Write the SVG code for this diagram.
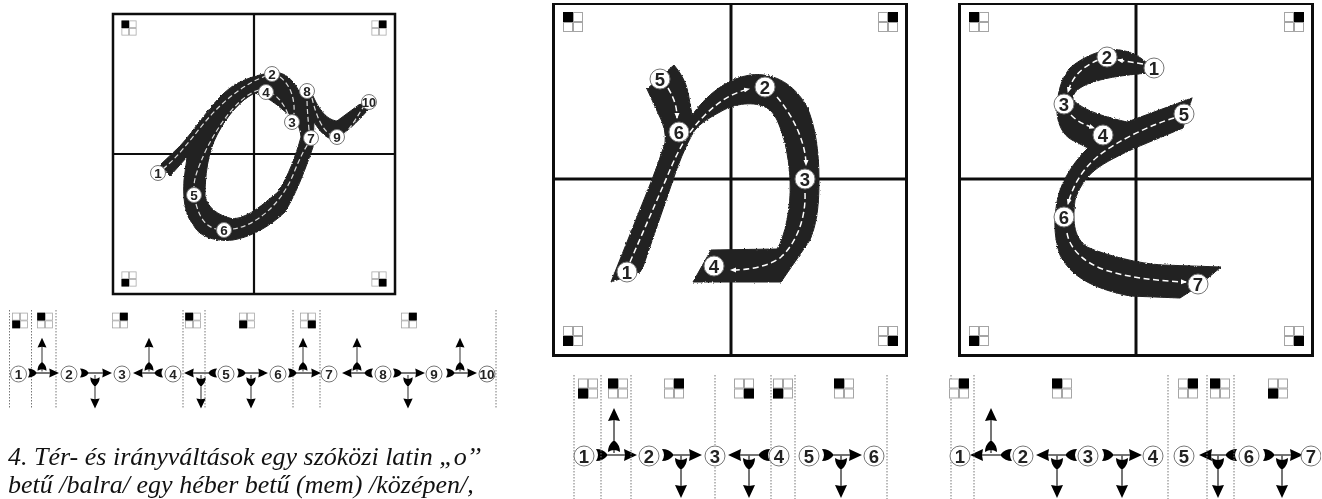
<svg xmlns="http://www.w3.org/2000/svg" width="1322" height="499" viewBox="0 0 1322 499">
<style>
.f{fill:#fff;stroke:#111;stroke-width:2.5}
.f2{fill:#fff;stroke:#111;stroke-width:3}
.x{stroke:#111;stroke-width:2.2}
.x2{stroke:#111;stroke-width:3}
.s{fill:#fff;stroke:#a5a5a5;stroke-width:1}
.b{fill:#000}
.ink{fill:#222;stroke:#222;stroke-width:1;fill-rule:evenodd}
.d{fill:none;stroke:#fff;stroke-width:1.5;stroke-dasharray:6 3.5;marker-end:url(#wa)}
.dl{fill:none;stroke:#ddd;stroke-width:1.2;stroke-dasharray:5 3}
.v{stroke:#777;stroke-width:1;stroke-dasharray:1.5 1.5}
.h{stroke:#666;stroke-width:1.8}
.n circle{fill:#fff;stroke:#777;stroke-width:1}
.n text{font-family:"Liberation Sans",Arial,sans-serif;font-weight:700;text-anchor:middle;fill:#222}
.sm text{font-size:13.5px}
.bg text{font-size:18.5px}
.cap{font-family:"Liberation Serif","Times New Roman",serif;font-style:italic;font-size:26px;fill:#111}
</style>
<defs>
<filter id="soft" x="0" y="0" width="1" height="1" filterUnits="objectBoundingBox"><feGaussianBlur stdDeviation="0.45"/></filter>
<filter id="rough" x="-5%" y="-5%" width="110%" height="110%"><feTurbulence type="fractalNoise" baseFrequency="0.6" numOctaves="2" seed="3"/><feDisplacementMap in="SourceGraphic" scale="2.5" xChannelSelector="R" yChannelSelector="G"/></filter>
<marker id="wa" markerUnits="userSpaceOnUse" markerWidth="7" markerHeight="6" refX="5" refY="3" orient="auto"><path d="M0,0.5L6,3L0,5.5Z" fill="#fff"/></marker>
<g id="q"><rect class="s" x="-9.5" y="-9.5" width="9" height="9"/><rect class="s" x="0.5" y="-9.5" width="9" height="9"/><rect class="s" x="-9.5" y="0.5" width="9" height="9"/><rect class="s" x="0.5" y="0.5" width="9" height="9"/></g>
<g id="tl"><use href="#q"/><rect class="b" x="-10" y="-10" width="10" height="10"/></g>
<g id="tr"><use href="#q"/><rect class="b" x="0" y="-10" width="10" height="10"/></g>
<g id="bl"><use href="#q"/><rect class="b" x="-10" y="0" width="10" height="10"/></g>
<g id="br"><use href="#q"/><rect class="b" x="0" y="0" width="10" height="10"/></g>
<path id="tail" class="b" d="M0,-6Q7,-6 11,-1L11,1Q7,6 0,6Q4,0 0,-6Z"/>
<path id="head" class="b" d="M0,0L-13,-6L-12,0L-13,6Z"/>
<g id="up"><line class="h" x1="0" y1="-2" x2="0" y2="-38"/><use href="#tail" transform="translate(0,-3) rotate(-90)"/><use href="#head" transform="translate(0,-47) rotate(-90)"/></g>
<g id="dn"><line class="h" x1="0" y1="0" x2="0" y2="32"/><use href="#tail" transform="translate(0,3) rotate(90)"/><use href="#head" transform="translate(0,43) rotate(90)"/></g>
</defs>
<rect width="1322" height="499" fill="#fff"/>
<g filter="url(#soft)">

<g id="panel-left">
<rect class="f" x="113" y="14" width="282" height="280"/>
<line class="x" x1="254" y1="14" x2="254" y2="294"/><line class="x" x1="113" y1="154" x2="395" y2="154"/>
<use href="#tl" transform="translate(129,28) scale(.75)"/><use href="#tr" transform="translate(379,28) scale(.75)"/><use href="#bl" transform="translate(129,279) scale(.75)"/><use href="#br" transform="translate(379,279) scale(.75)"/>
</g>
<path id="glyph-left" class="ink" filter="url(#rough)" d="M170,176L160,165L178,148C188,138 198,123 208,111C218,98 228,88 238,83C254,75 270,72 280,73C291,76 298,88 301,96L305,87L313,96C321,114 329,120 337,121L364,101L368,110C356,123 346,134 333,139C326,139 319,130 314,122L313,147C306,167 298,190 285,212C268,228 250,237 233,240C214,242 198,236 193,224C184,215 183,195 184,180L187,157Z M255,93C242,99 228,114 217,135C208,152 205,175 205,196C208,208 217,215 233,219C250,217 263,204 278,192C288,177 296,155 301,137C300,127 296,118 288,114C279,107 271,98 255,93Z"/>
<g id="dash-left">
<path class="dl" d="M163,169C178,157 190,140 205,122C225,98 248,82 266,76"/>
<path class="dl" d="M280,77C291,85 295,100 294,114"/>
<path class="dl" d="M288,114C284,104 278,97 273,94"/>
<path class="dl" d="M259,90C240,95 220,122 206,150C198,168 194,178 194,187"/>
<path class="dl" d="M196,204C200,218 205,226 216,229"/>
<path class="dl" d="M233,229C255,226 282,205 295,170C300,158 305,148 308,144"/>
<path class="dl" d="M309,130C308,118 307,108 307,98"/>
<path class="dl" d="M312,98C316,115 322,130 331,135"/>
<path class="dl" d="M343,135C350,130 358,115 364,106"/>
</g>
<g id="o1" class="n sm"><circle cx="158" cy="173" r="7.5"/><text x="158" y="178">1</text></g>
<g id="o2" class="n sm"><circle cx="272" cy="74" r="7.5"/><text x="272" y="79">2</text></g>
<g id="o3" class="n sm"><circle cx="292" cy="122" r="7.5"/><text x="292" y="127">3</text></g>
<g id="o4" class="n sm"><circle cx="266" cy="92" r="7.5"/><text x="266" y="97">4</text></g>
<g id="o5" class="n sm"><circle cx="194" cy="195" r="7.5"/><text x="194" y="200">5</text></g>
<g id="o6" class="n sm"><circle cx="224" cy="230" r="7.5"/><text x="224" y="235">6</text></g>
<g id="o7" class="n sm"><circle cx="311" cy="138" r="7.5"/><text x="311" y="143">7</text></g>
<g id="o8" class="n sm"><circle cx="307" cy="91" r="7.5"/><text x="307" y="96">8</text></g>
<g id="o9" class="n sm"><circle cx="337" cy="137" r="7.5"/><text x="337" y="142">9</text></g>
<g id="o10" class="n sm"><circle cx="369" cy="102" r="7.5"/><text x="369" y="107" textLength="14" lengthAdjust="spacingAndGlyphs">10</text></g>

<g id="panel-mid">
<rect class="f2" x="553.5" y="3.5" width="353" height="352"/>
<line class="x2" x1="731" y1="3" x2="731" y2="356"/><line class="x2" x1="553" y1="179" x2="907" y2="179"/>
<use href="#tl" transform="translate(573,22)"/><use href="#tr" transform="translate(888,22)"/><use href="#bl" transform="translate(573,336)"/><use href="#br" transform="translate(888,336)"/>
</g>
<path id="glyph-mid" class="ink" filter="url(#rough)" d="M611,282L653,177Q660,158 665,143Q667,130 658,113L647,89L674,65Q685,78 688,92L692,115Q718,80 750,75C775,72 795,85 807,107C815,125 819,150 819,180C819,210 816,225 810,240L781,282L693,282L711,250L777,249Q783,240 787,220C792,195 791,170 785,143C780,125 775,112 767,108C755,101 735,103 720,112C705,120 697,126 693,133C685,147 678,165 673,180L643,267L640,272Z"/>
<g id="dash-mid">
<path class="d" d="M630,262L667,177C680,145 690,130 705,115C720,100 735,92 749,89"/>
<path class="d" d="M777,97C795,118 806,145 806,165"/>
<path class="d" d="M805,193C806,220 795,245 780,258C765,268 745,270 731,270"/>
<path class="d" d="M668,88C675,100 677,108 677,118"/>
</g>
<g id="m1" class="n bg"><circle cx="627" cy="272" r="10"/><text x="627" y="278.5">1</text></g>
<g id="m2" class="n bg"><circle cx="765" cy="87" r="10"/><text x="765" y="93.5">2</text></g>
<g id="m3" class="n bg"><circle cx="805" cy="179" r="10"/><text x="805" y="185.5">3</text></g>
<g id="m4" class="n bg"><circle cx="714" cy="266" r="10"/><text x="714" y="272.5">4</text></g>
<g id="m5" class="n bg"><circle cx="660" cy="79" r="10"/><text x="660" y="85.5">5</text></g>
<g id="m6" class="n bg"><circle cx="679" cy="132" r="10"/><text x="679" y="138.5">6</text></g>

<g id="panel-right">
<rect class="f2" x="959.5" y="3.5" width="353" height="352"/>
<line class="x2" x1="1136" y1="3" x2="1136" y2="356"/><line class="x2" x1="959" y1="179" x2="1313" y2="179"/>
<use href="#tl" transform="translate(979,22)"/><use href="#tr" transform="translate(1294,22)"/><use href="#bl" transform="translate(979,336)"/><use href="#br" transform="translate(1294,336)"/>
</g>
<path id="glyph-right" class="ink" filter="url(#rough)" d="M1147,63Q1135,52 1120,50C1105,48 1085,55 1070,68C1060,80 1057,95 1057,113C1058,125 1063,135 1072,140L1088,148C1075,160 1062,180 1058,197C1054,215 1053,235 1060,255C1070,275 1090,288 1130,296L1180,298L1197,287L1221,267L1163,265C1140,264 1105,255 1087,247C1075,238 1072,225 1075,200C1078,190 1085,178 1095,170C1105,162 1120,155 1135,148L1183,128L1192,98L1127,122C1110,118 1085,112 1073,100C1072,92 1080,87 1090,83C1110,76 1130,75 1147,73Z"/>
<g id="dash-right">
<path class="d" d="M1143,64L1118,60"/>
<path class="d" d="M1098,60C1080,68 1072,78 1068,92"/>
<path class="d" d="M1071,115C1078,122 1085,125 1094,128"/>
<path class="d" d="M1174,118C1150,125 1115,142 1097,157C1082,170 1073,185 1068,204"/>
<path class="d" d="M1067,233C1070,250 1085,263 1105,270C1130,278 1160,281 1186,282"/>
</g>
<g id="r1" class="n bg"><circle cx="1154" cy="68" r="10"/><text x="1154" y="74.5">1</text></g>
<g id="r2" class="n bg"><circle cx="1107" cy="57" r="10"/><text x="1107" y="63.5">2</text></g>
<g id="r3" class="n bg"><circle cx="1064" cy="104" r="10"/><text x="1064" y="110.5">3</text></g>
<g id="r4" class="n bg"><circle cx="1103" cy="135" r="10"/><text x="1103" y="141.5">4</text></g>
<g id="r5" class="n bg"><circle cx="1184" cy="114" r="10"/><text x="1184" y="120.5">5</text></g>
<g id="r6" class="n bg"><circle cx="1064" cy="217" r="10"/><text x="1064" y="223.5">6</text></g>
<g id="r7" class="n bg"><circle cx="1198" cy="284" r="10"/><text x="1198" y="290.5">7</text></g>

<g id="strip-left-guides">
<line class="v" x1="9.5" y1="310" x2="9.5" y2="409"/><line class="v" x1="31.5" y1="310" x2="31.5" y2="409"/><line class="v" x1="56" y1="310" x2="56" y2="409"/><line class="v" x1="183" y1="310" x2="183" y2="409"/><line class="v" x1="205" y1="310" x2="205" y2="409"/><line class="v" x1="293" y1="310" x2="293" y2="409"/><line class="v" x1="320" y1="310" x2="320" y2="409"/><line class="v" x1="496" y1="310" x2="496" y2="409"/>
<use href="#bl" transform="translate(20,320.5) scale(.78)"/><use href="#tl" transform="translate(45,320.5) scale(.78)"/><use href="#tr" transform="translate(120,320.5) scale(.78)"/><use href="#tl" transform="translate(193,320.5) scale(.78)"/><use href="#bl" transform="translate(247,320.5) scale(.78)"/><use href="#br" transform="translate(308,320.5) scale(.78)"/><use href="#tr" transform="translate(409,320.5) scale(.78)"/>
</g>
<g id="connectors">
<g id="cl12"><line class="h" x1="35" y1="373" x2="50" y2="373"/><use href="#tail" transform="translate(28,373) scale(.75)"/><use href="#head" transform="translate(59,373) scale(.75)"/><use href="#up" transform="translate(42,373) scale(.75)"/></g>
<g id="cl23"><line class="h" x1="87" y1="373" x2="104" y2="373"/><use href="#tail" transform="translate(80,373) scale(.75)"/><use href="#head" transform="translate(112,373) scale(.75)"/><use href="#dn" transform="translate(95,375) scale(.78)"/></g>
<g id="cl43"><line class="h" x1="140" y1="373" x2="156" y2="373"/><use href="#tail" transform="translate(163,373) scale(-.75,.75)"/><use href="#head" transform="translate(133,373) scale(-.75,.75)"/><use href="#up" transform="translate(149,373) scale(.75)"/></g>
<g id="cl54"><line class="h" x1="192" y1="373" x2="210" y2="373"/><use href="#tail" transform="translate(217,373) scale(-.75,.75)"/><use href="#head" transform="translate(184,373) scale(-.75,.75)"/><use href="#dn" transform="translate(201,375) scale(.78)"/></g>
<g id="cl56"><line class="h" x1="244" y1="373" x2="260" y2="373"/><use href="#tail" transform="translate(237,373) scale(.75)"/><use href="#head" transform="translate(268,373) scale(.75)"/><use href="#dn" transform="translate(251,375) scale(.78)"/></g>
<g id="cl67"><line class="h" x1="295" y1="373" x2="313" y2="373"/><use href="#tail" transform="translate(288,373) scale(.75)"/><use href="#head" transform="translate(321,373) scale(.75)"/><use href="#up" transform="translate(303,373) scale(.75)"/></g>
<g id="cl87"><line class="h" x1="349" y1="373" x2="366" y2="373"/><use href="#tail" transform="translate(373,373) scale(-.75,.75)"/><use href="#head" transform="translate(342,373) scale(-.75,.75)"/><use href="#up" transform="translate(357,373) scale(.75)"/></g>
<g id="cl89"><line class="h" x1="400" y1="373" x2="417" y2="373"/><use href="#tail" transform="translate(393,373) scale(.75)"/><use href="#head" transform="translate(425,373) scale(.75)"/><use href="#dn" transform="translate(408,375) scale(.78)"/></g>
<g id="cl910"><line class="h" x1="453" y1="373" x2="469" y2="373"/><use href="#tail" transform="translate(446,373) scale(.75)"/><use href="#head" transform="translate(477,373) scale(.75)"/><use href="#up" transform="translate(460,373) scale(.75)"/></g>

<g id="cm12"><line class="h" x1="605" y1="455" x2="627" y2="455"/><use href="#tail" transform="translate(596,455)"/><use href="#head" transform="translate(637,455)"/><use href="#up" transform="translate(614,455)"/></g>
<g id="cm23"><line class="h" x1="671" y1="455" x2="692" y2="455"/><use href="#tail" transform="translate(662,455)"/><use href="#head" transform="translate(702,455)"/><use href="#dn" transform="translate(681,455)"/></g>
<g id="cm43"><line class="h" x1="738" y1="455" x2="761" y2="455"/><use href="#tail" transform="translate(770,455) scale(-1,1)"/><use href="#head" transform="translate(728,455) scale(-1,1)"/><use href="#dn" transform="translate(749,455)"/></g>
<g id="cm56"><line class="h" x1="831" y1="455" x2="852" y2="455"/><use href="#tail" transform="translate(822,455)"/><use href="#head" transform="translate(862,455)"/><use href="#dn" transform="translate(841,455)"/></g>

<g id="cr21"><line class="h" x1="980" y1="455" x2="1003" y2="455"/><use href="#tail" transform="translate(1012,455) scale(-1,1)"/><use href="#head" transform="translate(970,455) scale(-1,1)"/><use href="#up" transform="translate(991,455)"/></g>
<g id="cr32"><line class="h" x1="1046" y1="455" x2="1068" y2="455"/><use href="#tail" transform="translate(1077,455) scale(-1,1)"/><use href="#head" transform="translate(1036,455) scale(-1,1)"/><use href="#dn" transform="translate(1057,455)"/></g>
<g id="cr34"><line class="h" x1="1111" y1="455" x2="1132" y2="455"/><use href="#tail" transform="translate(1102,455)"/><use href="#head" transform="translate(1142,455)"/><use href="#dn" transform="translate(1122,455)"/></g>
<g id="cr65"><line class="h" x1="1209" y1="455" x2="1228" y2="455"/><use href="#tail" transform="translate(1237,455) scale(-1,1)"/><use href="#head" transform="translate(1199,455) scale(-1,1)"/><use href="#dn" transform="translate(1218,455)"/></g>
<g id="cr67"><line class="h" x1="1272" y1="455" x2="1293" y2="455"/><use href="#tail" transform="translate(1263,455)"/><use href="#head" transform="translate(1303,455)"/><use href="#dn" transform="translate(1282,455)"/></g>
</g>
<g id="sl1" class="n sm"><circle cx="18.5" cy="374" r="8"/><text x="18.5" y="379">1</text></g>
<g id="sl2" class="n sm"><circle cx="69" cy="374" r="8"/><text x="69" y="379">2</text></g>
<g id="sl3" class="n sm"><circle cx="122" cy="374" r="8"/><text x="122" y="379">3</text></g>
<g id="sl4" class="n sm"><circle cx="173" cy="374" r="8"/><text x="173" y="379">4</text></g>
<g id="sl5" class="n sm"><circle cx="226" cy="374" r="8"/><text x="226" y="379">5</text></g>
<g id="sl6" class="n sm"><circle cx="278" cy="374" r="8"/><text x="278" y="379">6</text></g>
<g id="sl7" class="n sm"><circle cx="329" cy="374" r="8"/><text x="329" y="379">7</text></g>
<g id="sl8" class="n sm"><circle cx="383" cy="374" r="8"/><text x="383" y="379">8</text></g>
<g id="sl9" class="n sm"><circle cx="434" cy="374" r="8"/><text x="434" y="379">9</text></g>
<g id="sl10" class="n sm"><circle cx="487" cy="374" r="8"/><text x="487" y="379" textLength="15" lengthAdjust="spacingAndGlyphs">10</text></g>

<g id="strip-mid-guides">
<line class="v" x1="574" y1="375" x2="574" y2="499"/><line class="v" x1="601" y1="375" x2="601" y2="499"/><line class="v" x1="631" y1="375" x2="631" y2="499"/><line class="v" x1="715" y1="375" x2="715" y2="445"/><line class="v" x1="715" y1="467" x2="715" y2="499"/><line class="v" x1="771" y1="375" x2="771" y2="499"/><line class="v" x1="795" y1="375" x2="795" y2="499"/><line class="v" x1="887" y1="375" x2="887" y2="499"/>
<use href="#bl" transform="translate(588,388.5)"/><use href="#tl" transform="translate(618,388.5)"/><use href="#tr" transform="translate(674,388.5)"/><use href="#br" transform="translate(744,388.5)"/><use href="#bl" transform="translate(783,388.5)"/><use href="#tl" transform="translate(844,388.5)"/>
</g>
<g id="sm1" class="n bg"><circle cx="584" cy="456" r="10"/><text x="584" y="462.5">1</text></g>
<g id="sm2" class="n bg"><circle cx="649" cy="456" r="10"/><text x="649" y="462.5">2</text></g>
<g id="sm3" class="n bg"><circle cx="715" cy="456" r="10"/><text x="715" y="462.5">3</text></g>
<g id="sm4" class="n bg"><circle cx="779" cy="456" r="10"/><text x="779" y="462.5">4</text></g>
<g id="sm5" class="n bg"><circle cx="809" cy="456" r="10"/><text x="809" y="462.5">5</text></g>
<g id="sm6" class="n bg"><circle cx="874" cy="456" r="10"/><text x="874" y="462.5">6</text></g>

<g id="strip-right-guides">
<line class="v" x1="951" y1="375" x2="951" y2="499"/><line class="v" x1="974" y1="375" x2="974" y2="499"/><line class="v" x1="1168" y1="375" x2="1168" y2="499"/><line class="v" x1="1207" y1="375" x2="1207" y2="499"/><line class="v" x1="1234" y1="375" x2="1234" y2="499"/>
<use href="#tr" transform="translate(959,388.5)"/><use href="#tl" transform="translate(1062,388.5)"/><use href="#tr" transform="translate(1188,388.5)"/><use href="#tl" transform="translate(1220,388.5)"/><use href="#bl" transform="translate(1278,388.5)"/>
</g>
<g id="sr1" class="n bg"><circle cx="960" cy="456" r="10"/><text x="960" y="462.5">1</text></g>
<g id="sr2" class="n bg"><circle cx="1023" cy="456" r="10"/><text x="1023" y="462.5">2</text></g>
<g id="sr3" class="n bg"><circle cx="1088" cy="456" r="10"/><text x="1088" y="462.5">3</text></g>
<g id="sr4" class="n bg"><circle cx="1153" cy="456" r="10"/><text x="1153" y="462.5">4</text></g>
<g id="sr5" class="n bg"><circle cx="1184" cy="456" r="10"/><text x="1184" y="462.5">5</text></g>
<g id="sr6" class="n bg"><circle cx="1249" cy="456" r="10"/><text x="1249" y="462.5">6</text></g>
<g id="sr7" class="n bg"><circle cx="1311" cy="456" r="10"/><text x="1311" y="462.5">7</text></g>
</g>
<g id="caption">
<text class="cap" x="8" y="465">4. Tér- és irányváltások egy szóközi latin „o’’</text>
<text class="cap" x="8" y="493">betű /balra/ egy héber betű (mem) /középen/,</text>
</g>
</svg>
